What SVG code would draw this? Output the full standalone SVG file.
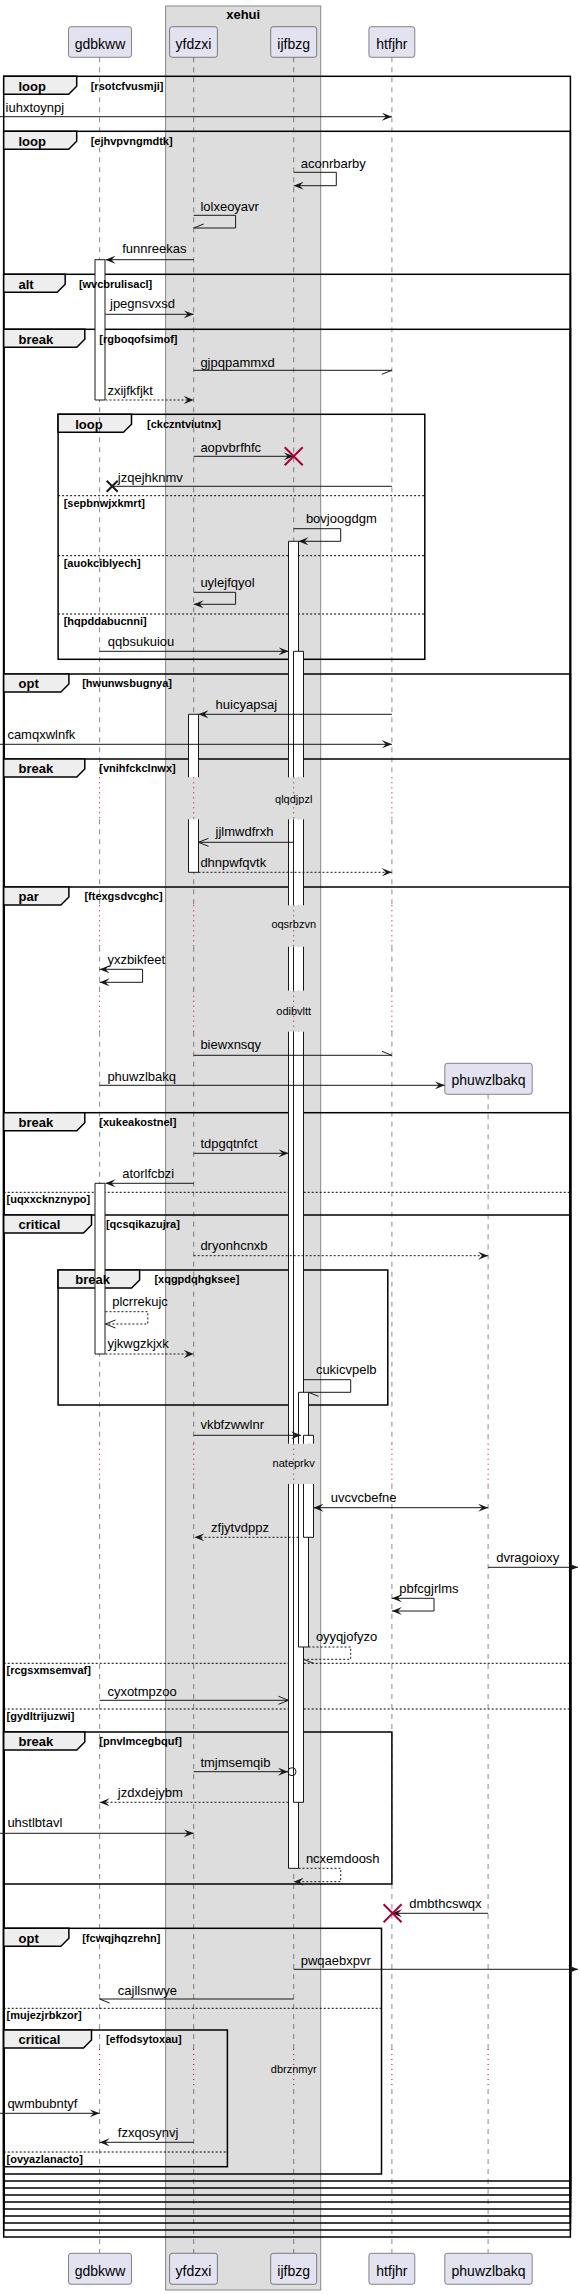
<svg xmlns="http://www.w3.org/2000/svg" width="580" height="2295" viewBox="0 0 580 2295">
<style>
text{font-family:"Liberation Sans",Arial,sans-serif;fill:#000}
.p{font-size:14px}
.t{font-size:13px}
.fl{font-size:13px;font-weight:bold}
.fc{font-size:11px;font-weight:bold}
.d{font-size:11px}
.xt{font-size:13px;font-weight:bold}
.box{fill:#E2E2F0;stroke:#181818;stroke-width:0.5}
.grp{fill:#DDDDDD;stroke:#888888;stroke-width:1}
.ll{fill:none;stroke:#181818;stroke-width:0.5;stroke-dasharray:5,5}
.dl{fill:none;stroke:#A80036;stroke-width:1;stroke-dasharray:1,4}
.fr{fill:none;stroke:#000;stroke-width:1.5}
.tab{fill:#EEEEEE;stroke:#000;stroke-width:1.5}
.el{fill:none;stroke:#000;stroke-width:1;stroke-dasharray:2,2}
.act{fill:#FFFFFF;stroke:none}
.ao{fill:none;stroke:#181818;stroke-width:1}
.m{fill:none;stroke:#181818;stroke-width:1}
.md{fill:none;stroke:#181818;stroke-width:1;stroke-dasharray:2,2}
.rx{stroke:#A80036;stroke-width:2}
.bx{stroke:#181818;stroke-width:2}
</style>
<defs>
<marker id="af" viewBox="0 0 10 8" refX="10" refY="4" markerWidth="10" markerHeight="8" markerUnits="userSpaceOnUse" orient="auto-start-reverse"><path d="M0,0 L10,4 L0,8 L4,4 Z" fill="#181818"/></marker>
<marker id="ao" viewBox="-1 -1 12 10" refX="10" refY="4" markerWidth="12" markerHeight="10" markerUnits="userSpaceOnUse" orient="auto-start-reverse"><path d="M0,0 L10,4 L0,8" fill="none" stroke="#181818" stroke-width="1"/></marker>
<marker id="ht" viewBox="-1 -1 12 10" refX="10" refY="4" markerWidth="12" markerHeight="10" markerUnits="userSpaceOnUse" orient="auto-start-reverse"><path d="M0,0 L10,4" fill="none" stroke="#181818" stroke-width="1"/></marker>
<marker id="hb" viewBox="-1 -1 12 10" refX="10" refY="4" markerWidth="12" markerHeight="10" markerUnits="userSpaceOnUse" orient="auto-start-reverse"><path d="M0,8 L10,4" fill="none" stroke="#181818" stroke-width="1"/></marker>
</defs>
<rect width="580" height="2295" fill="#FFFFFF"/>
<g id="box-xehui">
<rect class="grp" x="165.6" y="6" width="155.1" height="2284"/>
<text class="xt" x="243.2" y="19" text-anchor="middle">xehui</text>
</g>
<g id="frames">
<rect class="fr" x="3.7" y="76.3" width="566.7" height="2160.7"/>
<polygon class="tab" points="3.7,76.3 76.7,76.3 76.7,86.3 68.7,94.3 3.7,94.3"/>
<rect class="fr" x="3.7" y="131.3" width="566.7" height="2098.7"/>
<polygon class="tab" points="3.7,131.3 76.7,131.3 76.7,141.3 68.7,149.3 3.7,149.3"/>
<rect class="fr" x="3.7" y="274.3" width="566.7" height="1948.7"/>
<polygon class="tab" points="3.7,274.3 65.2,274.3 65.2,284.3 57.2,292.3 3.7,292.3"/>
<rect class="fr" x="3.7" y="329.3" width="566.7" height="1886.7"/>
<polygon class="tab" points="3.7,329.3 84.8,329.3 84.8,339.3 76.8,347.3 3.7,347.3"/>
<rect class="fr" x="58.1" y="414.3" width="366.7" height="245"/>
<polygon class="tab" points="58.1,414.3 131.5,414.3 131.5,424.3 123.5,432.3 58.1,432.3"/>
<line class="el" x1="58.1" y1="495.7" x2="424.8" y2="495.7"/>
<line class="el" x1="58.1" y1="555.7" x2="424.8" y2="555.7"/>
<line class="el" x1="58.1" y1="614" x2="424.8" y2="614"/>
<rect class="fr" x="3.7" y="674" width="566.7" height="1535"/>
<polygon class="tab" points="3.7,674 68.9,674 68.9,684 60.9,692 3.7,692"/>
<rect class="fr" x="3.7" y="759" width="566.7" height="1443"/>
<polygon class="tab" points="3.7,759 84.8,759 84.8,769 76.8,777 3.7,777"/>
<rect class="fr" x="3.7" y="887" width="566.7" height="1308"/>
<polygon class="tab" points="3.7,887 68.9,887 68.9,897 60.9,905 3.7,905"/>
<rect class="fr" x="3.7" y="1112.7" width="566.7" height="1075.3"/>
<polygon class="tab" points="3.7,1112.7 84.8,1112.7 84.8,1122.7 76.8,1130.7 3.7,1130.7"/>
<line class="el" x1="3.7" y1="1192.3" x2="570.4" y2="1192.3"/>
<rect class="fr" x="3.7" y="1215" width="566.7" height="966"/>
<polygon class="tab" points="3.7,1215 91.5,1215 91.5,1225 83.5,1233 3.7,1233"/>
<rect class="fr" x="58.1" y="1270" width="329.7" height="135"/>
<polygon class="tab" points="58.1,1270 139.6,1270 139.6,1280 131.6,1288 58.1,1288"/>
<line class="el" x1="3.7" y1="1663.3" x2="570.4" y2="1663.3"/>
<line class="el" x1="3.7" y1="1709" x2="570.4" y2="1709"/>
<rect class="fr" x="3.7" y="1732" width="388.2" height="152"/>
<polygon class="tab" points="3.7,1732 84.8,1732 84.8,1742 76.8,1750 3.7,1750"/>
<rect class="fr" x="3.7" y="1928.3" width="377.8" height="245.7"/>
<polygon class="tab" points="3.7,1928.3 68.9,1928.3 68.9,1938.3 60.9,1946.3 3.7,1946.3"/>
<line class="el" x1="3.7" y1="2008.3" x2="381.5" y2="2008.3"/>
<rect class="fr" x="3.7" y="2030" width="223.7" height="136.7"/>
<polygon class="tab" points="3.7,2030 91.5,2030 91.5,2040 83.5,2048 3.7,2048"/>
<line class="el" x1="3.7" y1="2152" x2="227.4" y2="2152"/>
</g>
<g id="lifelines">
<path class="ll" d="M99.6,57.3V777.3M99.6,819.3V905.3M99.6,946.7V990.7M99.6,1031.7V1443.7M99.6,1484V2049M99.6,2089V2253.3"/>
<path class="ll" d="M193.7,57.3V777.3M193.7,819.3V905.3M193.7,946.7V990.7M193.7,1031.7V1443.7M193.7,1484V2049M193.7,2089V2253.3"/>
<path class="ll" d="M293.7,57.3V777.3M293.7,819.3V905.3M293.7,946.7V990.7M293.7,1031.7V1443.7M293.7,1484V2049M293.7,2089V2253.3"/>
<path class="ll" d="M391.9,57.3V777.3M391.9,819.3V905.3M391.9,946.7V990.7M391.9,1031.7V1443.7M391.9,1484V2049M391.9,2089V2253.3"/>
<path class="ll" d="M488.1,1094.3V1443.7M488.1,1484V2049M488.1,2089V2253.3"/>
<path class="dl" d="M99.6,777.3V819.3M99.6,905.3V946.7M99.6,990.7V1031.7M99.6,1443.7V1484M99.6,2049V2089"/>
<path class="dl" d="M193.7,777.3V819.3M193.7,905.3V946.7M193.7,990.7V1031.7M193.7,1443.7V1484M193.7,2049V2089"/>
<path class="dl" d="M293.7,777.3V819.3M293.7,905.3V946.7M293.7,990.7V1031.7M293.7,1443.7V1484M293.7,2049V2089"/>
<path class="dl" d="M391.9,777.3V819.3M391.9,905.3V946.7M391.9,990.7V1031.7M391.9,1443.7V1484M391.9,2049V2089"/>
<path class="dl" d="M488.1,1443.7V1484M488.1,2049V2089"/>
</g>
<g id="delays">
<text class="d" x="293.7" y="803.3" text-anchor="middle">qlqdjpzl</text>
<text class="d" x="293.7" y="928.3" text-anchor="middle">oqsrbzvn</text>
<text class="d" x="293.7" y="1015" text-anchor="middle">odibvltt</text>
<text class="d" x="293.7" y="1467.3" text-anchor="middle">nateprkv</text>
<text class="d" x="293.7" y="2073.3" text-anchor="middle">dbrznmyr</text>
</g>
<g id="activations">
<rect class="act" x="95" y="259.7" width="10" height="140.3"/>
<path class="ao" d="M95,259.7H105V400H95Z"/>
<rect class="act" x="95" y="1183.3" width="10" height="170.7"/>
<path class="ao" d="M95,1183.3H105V1354H95Z"/>
<rect class="act" x="188.5" y="714.3" width="10" height="63"/>
<rect class="act" x="188.5" y="819.3" width="10" height="53"/>
<path class="ao" d="M188.5,777.3V714.3H198.5V777.3M188.5,819.3V872.3H198.5V819.3"/>
<rect class="act" x="288.5" y="541.3" width="10" height="236"/>
<rect class="act" x="288.5" y="819.3" width="10" height="86"/>
<rect class="act" x="288.5" y="946.7" width="10" height="44"/>
<rect class="act" x="288.5" y="1031.7" width="10" height="412"/>
<rect class="act" x="288.5" y="1484" width="10" height="384.3"/>
<path class="ao" d="M288.5,777.3V541.3H298.5V777.3M288.5,819.3V905.3M298.5,819.3V905.3M288.5,946.7V990.7M298.5,946.7V990.7M288.5,1031.7V1443.7M298.5,1031.7V1443.7M288.5,1484V1868.3H298.5V1484"/>
<rect class="act" x="293.5" y="651.3" width="10" height="126"/>
<rect class="act" x="293.5" y="819.3" width="10" height="86"/>
<rect class="act" x="293.5" y="946.7" width="10" height="44"/>
<rect class="act" x="293.5" y="1031.7" width="10" height="412"/>
<rect class="act" x="293.5" y="1484" width="10" height="318.3"/>
<path class="ao" d="M293.5,777.3V651.3H303.5V777.3M293.5,819.3V905.3M303.5,819.3V905.3M293.5,946.7V990.7M303.5,946.7V990.7M293.5,1031.7V1443.7M303.5,1031.7V1443.7M293.5,1484V1802.3H303.5V1484"/>
<rect class="act" x="298.5" y="1392.3" width="10" height="51.4"/>
<rect class="act" x="298.5" y="1484" width="10" height="163"/>
<path class="ao" d="M298.5,1443.7V1392.3H308.5V1443.7M298.5,1484V1647H308.5V1484"/>
<rect class="act" x="303.5" y="1435.3" width="10" height="8.4"/>
<rect class="act" x="303.5" y="1484" width="10" height="53.3"/>
<path class="ao" d="M303.5,1443.7V1435.3H313.5V1443.7M303.5,1484V1537.3H313.5V1484"/>
</g>
<g id="frame-labels">
<text class="fl" x="18.5" y="90.6">loop</text><text class="fc" x="90.7" y="89.6">[rsotcfvusmji]</text>
<text class="fl" x="18.5" y="145.6">loop</text><text class="fc" x="90.7" y="144.6">[ejhvpvngmdtk]</text>
<text class="fl" x="18.5" y="288.6">alt</text><text class="fc" x="78.9" y="287.6">[wvcbrulisacl]</text>
<text class="fl" x="18.5" y="343.6">break</text><text class="fc" x="99.3" y="342.6">[rgboqofsimof]</text>
<text class="fl" x="75.2" y="428.6">loop</text><text class="fc" x="147" y="427.6">[ckczntviutnx]</text>
<text class="fc" x="63.7" y="506.8">[sepbnwjxkmrt]</text>
<text class="fc" x="63.7" y="566.8">[auokciblyech]</text>
<text class="fc" x="63.7" y="625.1">[hqpddabucnni]</text>
<text class="fl" x="18.5" y="688.3">opt</text><text class="fc" x="82.2" y="687.3">[hwunwsbugnya]</text>
<text class="fl" x="18.5" y="773.3">break</text><text class="fc" x="99.3" y="772.3">[vnihfckclnwx]</text>
<text class="fl" x="18.5" y="901.3">par</text><text class="fc" x="84.4" y="900.3">[ftexgsdvcghc]</text>
<text class="fl" x="18.5" y="1127">break</text><text class="fc" x="99.3" y="1126">[xukeakostnel]</text>
<text class="fc" x="6.5" y="1203.4">[uqxxcknznypo]</text>
<text class="fl" x="18.5" y="1229.3">critical</text><text class="fc" x="105.9" y="1228.3">[qcsqikazujra]</text>
<text class="fl" x="75.2" y="1284.3">break</text><text class="fc" x="154.4" y="1283.3">[xqgpdqhgksee]</text>
<text class="fc" x="6.5" y="1674.4">[rcgsxmsemvaf]</text>
<text class="fc" x="6.5" y="1720.1">[gydltrijuzwi]</text>
<text class="fl" x="18.5" y="1746.3">break</text><text class="fc" x="99.3" y="1745.3">[pnvlmcegbquf]</text>
<text class="fl" x="18.5" y="1942.6">opt</text><text class="fc" x="82.2" y="1941.6">[fcwqjhqzrehn]</text>
<text class="fc" x="6.5" y="2019.4">[mujezjrbkzor]</text>
<text class="fl" x="18.5" y="2044.3">critical</text><text class="fc" x="105.9" y="2043.3">[effodsytoxau]</text>
<text class="fc" x="6.5" y="2163.1">[ovyazlanacto]</text>
</g>
<g id="connectors">
<path class="m" d="M0,116.7H391.9" marker-end="url(#af)"/>
<path class="m" d="M293.7,172.3H336.3V185.7H293.7" marker-end="url(#af)"/>
<path class="m" d="M193.7,215.3H235.6V228H193.7" marker-end="url(#hb)"/>
<path class="m" d="M193.7,259.7H105.5" marker-end="url(#af)"/>
<path class="m" d="M105.5,314.3H193.7" marker-end="url(#af)"/>
<path class="m" d="M193.7,370.3H391.9" marker-end="url(#hb)"/>
<path class="md" d="M105.5,400H193.7" marker-end="url(#af)"/>
<path class="m" d="M193.7,456.3H293.7" marker-end="url(#af)"/>
<path class="rx" d="M284.7,447.3L302.7,465.3M302.7,447.3L284.7,465.3"/>
<path class="m" d="M391.9,486.3H112.2"/>
<path class="bx" d="M106.7,480.8L117.7,491.8M117.7,480.8L106.7,491.8"/>
<path class="m" d="M293.7,528.7H340.7V541.3H298.5" marker-end="url(#af)"/>
<path class="m" d="M193.7,592.3H235.6V604.3H193.7" marker-end="url(#af)"/>
<path class="m" d="M99.6,651.3H288.5" marker-end="url(#af)"/>
<path class="m" d="M391.9,714.3H198.5" marker-end="url(#af)"/>
<path class="m" d="M0,744.3H391.9" marker-end="url(#af)"/>
<path class="m" d="M293.7,842.3H198.5" marker-end="url(#ao)"/>
<path class="md" d="M198.5,872.3H391.9" marker-end="url(#af)"/>
<path class="m" d="M99.6,969.3H142.6V982.3H99.6" marker-start="url(#af)" marker-end="url(#af)"/>
<path class="m" d="M193.7,1055.3H391.9" marker-end="url(#ht)"/>
<path class="m" d="M99.6,1085.3H444.8" marker-end="url(#af)"/>
<path class="m" d="M193.7,1153.3H288.5" marker-end="url(#af)"/>
<path class="m" d="M193.7,1183.3H105.5" marker-end="url(#af)"/>
<path class="md" d="M193.7,1255.7H488.1" marker-end="url(#af)"/>
<path class="md" d="M105.5,1311.7H147.8V1324H105.5" marker-end="url(#ao)"/>
<path class="md" d="M105.5,1354H193.7" marker-end="url(#af)"/>
<path class="m" d="M303.5,1379.7H350.7V1392.3H308.5" marker-end="url(#ht)"/>
<path class="m" d="M193.7,1435.3H301" marker-end="url(#af)"/>
<path class="m" d="M313.5,1507.7H488.1" marker-start="url(#af)" marker-end="url(#af)"/>
<path class="md" d="M298.5,1537.3H194.4" marker-end="url(#af)"/>
<path class="m" d="M488.1,1567.3H578" marker-end="url(#af)"/>
<path class="m" d="M391.9,1598.3H434V1611H391.9" marker-start="url(#af)" marker-end="url(#af)"/>
<path class="md" d="M308.5,1647H350.7V1659.3H303.5" marker-end="url(#ht)"/>
<path class="m" d="M99.6,1700.3H288.5" marker-end="url(#ao)"/>
<path class="m" d="M193.7,1771.7H288" marker-end="url(#af)"/>
<circle cx="292" cy="1771.7" r="4" fill="none" stroke="#181818" stroke-width="1"/>
<path class="md" d="M288.5,1802.3H99.6" marker-end="url(#af)"/>
<path class="m" d="M0,1833.3H193.7" marker-end="url(#af)"/>
<path class="md" d="M298.5,1868.3H340.7V1881.7H293.7" marker-end="url(#af)"/>
<path class="m" d="M488.1,1913.3H392" marker-end="url(#af)"/>
<path class="rx" d="M383.6,1904.3L401.6,1922.3M401.6,1904.3L383.6,1922.3"/>
<path class="m" d="M293.7,1969.3H578" marker-end="url(#af)"/>
<path class="m" d="M293.7,1999H99.6" marker-end="url(#ht)"/>
<path class="m" d="M0,2113.3H99.6" marker-end="url(#af)"/>
<path class="m" d="M193.7,2142.3H99.6" marker-end="url(#af)"/>
</g>
<g id="labels">
<text class="t" x="5.6" y="112.3">iuhxtoynpj</text>
<text class="t" x="300.7" y="168.3">aconrbarby</text>
<text class="t" x="200.4" y="210.7">lolxeoyavr</text>
<text class="t" x="122.2" y="253.3">funnreekas</text>
<text class="t" x="110" y="308.3">jpegnsvxsd</text>
<text class="t" x="200.4" y="366.7">gjpqpammxd</text>
<text class="t" x="107.4" y="395">zxijfkfjkt</text>
<text class="t" x="200.4" y="451.7">aopvbrfhfc</text>
<text class="t" x="117.8" y="481.7">jzqejhknmv</text>
<text class="t" x="305.9" y="522.7">bovjoogdgm</text>
<text class="t" x="200.4" y="586.7">uylejfqyol</text>
<text class="t" x="107.8" y="646">qqbsukuiou</text>
<text class="t" x="215.6" y="709.3">huicyapsaj</text>
<text class="t" x="7.4" y="739.3">camqxwlnfk</text>
<text class="t" x="215.6" y="836">jjlmwdfrxh</text>
<text class="t" x="200.4" y="867.3">dhnpwfqvtk</text>
<text class="t" x="107.4" y="964">yxzbikfeet</text>
<text class="t" x="200.4" y="1049.3">biewxnsqy</text>
<text class="t" x="107.4" y="1080.7">phuwzlbakq</text>
<text class="t" x="200.4" y="1148.3">tdpgqtnfct</text>
<text class="t" x="122.2" y="1178.3">atorlfcbzi</text>
<text class="t" x="200.4" y="1250">dryonhcnxb</text>
<text class="t" x="112.2" y="1305.7">plcrrekujc</text>
<text class="t" x="107.4" y="1348.3">yjkwgzkjxk</text>
<text class="t" x="315.9" y="1374.3">cukicvpelb</text>
<text class="t" x="200.4" y="1429">vkbfzwwlnr</text>
<text class="t" x="330.7" y="1501.7">uvcvcbefne</text>
<text class="t" x="211.1" y="1531.7">zfjytvdppz</text>
<text class="t" x="496.3" y="1561.7">dvragoioxy</text>
<text class="t" x="399.3" y="1593.3">pbfcgjrlms</text>
<text class="t" x="315.9" y="1640.7">oyyqjofyzo</text>
<text class="t" x="107.4" y="1695.7">cyxotmpzoo</text>
<text class="t" x="200.4" y="1766.7">tmjmsemqib</text>
<text class="t" x="117.8" y="1797.3">jzdxdejybm</text>
<text class="t" x="7.4" y="1827.3">uhstlbtavl</text>
<text class="t" x="305.9" y="1863.3">ncxemdoosh</text>
<text class="t" x="409.3" y="1908.3">dmbthcswqx</text>
<text class="t" x="300.7" y="1965">pwqaebxpvr</text>
<text class="t" x="117.8" y="1995">cajllsnwye</text>
<text class="t" x="7.4" y="2108.3">qwmbubntyf</text>
<text class="t" x="117.8" y="2136.7">fzxqosynvj</text>
</g>
<g id="p-gdbkww">
<rect class="box" x="68.5" y="26.7" width="63" height="30.6" rx="2.5"/><text class="p" x="100" y="49" text-anchor="middle">gdbkww</text>
<rect class="box" x="68.5" y="2253.3" width="63" height="31" rx="2.5"/><text class="p" x="100" y="2275.7" text-anchor="middle">gdbkww</text>
</g>
<g id="p-yfdzxi">
<rect class="box" x="169.6" y="26.7" width="47.8" height="30.6" rx="2.5"/><text class="p" x="193.5" y="49" text-anchor="middle">yfdzxi</text>
<rect class="box" x="169.6" y="2253.3" width="47.8" height="31" rx="2.5"/><text class="p" x="193.5" y="2275.7" text-anchor="middle">yfdzxi</text>
</g>
<g id="p-ijfbzg">
<rect class="box" x="270.7" y="26.7" width="46" height="30.6" rx="2.5"/><text class="p" x="293.7" y="49" text-anchor="middle">ijfbzg</text>
<rect class="box" x="270.7" y="2253.3" width="46" height="31" rx="2.5"/><text class="p" x="293.7" y="2275.7" text-anchor="middle">ijfbzg</text>
</g>
<g id="p-htfjhr">
<rect class="box" x="368.9" y="26.7" width="45.9" height="30.6" rx="2.5"/><text class="p" x="391.9" y="49" text-anchor="middle">htfjhr</text>
<rect class="box" x="368.9" y="2253.3" width="45.9" height="31" rx="2.5"/><text class="p" x="391.9" y="2275.7" text-anchor="middle">htfjhr</text>
</g>
<g id="p-phuwzlbakq">
<rect class="box" x="444.8" y="1063.3" width="87.4" height="31" rx="2.5"/><text class="p" x="488.5" y="1085" text-anchor="middle">phuwzlbakq</text>
<rect class="box" x="444.8" y="2253.3" width="87.4" height="31" rx="2.5"/><text class="p" x="488.5" y="2275.7" text-anchor="middle">phuwzlbakq</text>
</g>
</svg>
